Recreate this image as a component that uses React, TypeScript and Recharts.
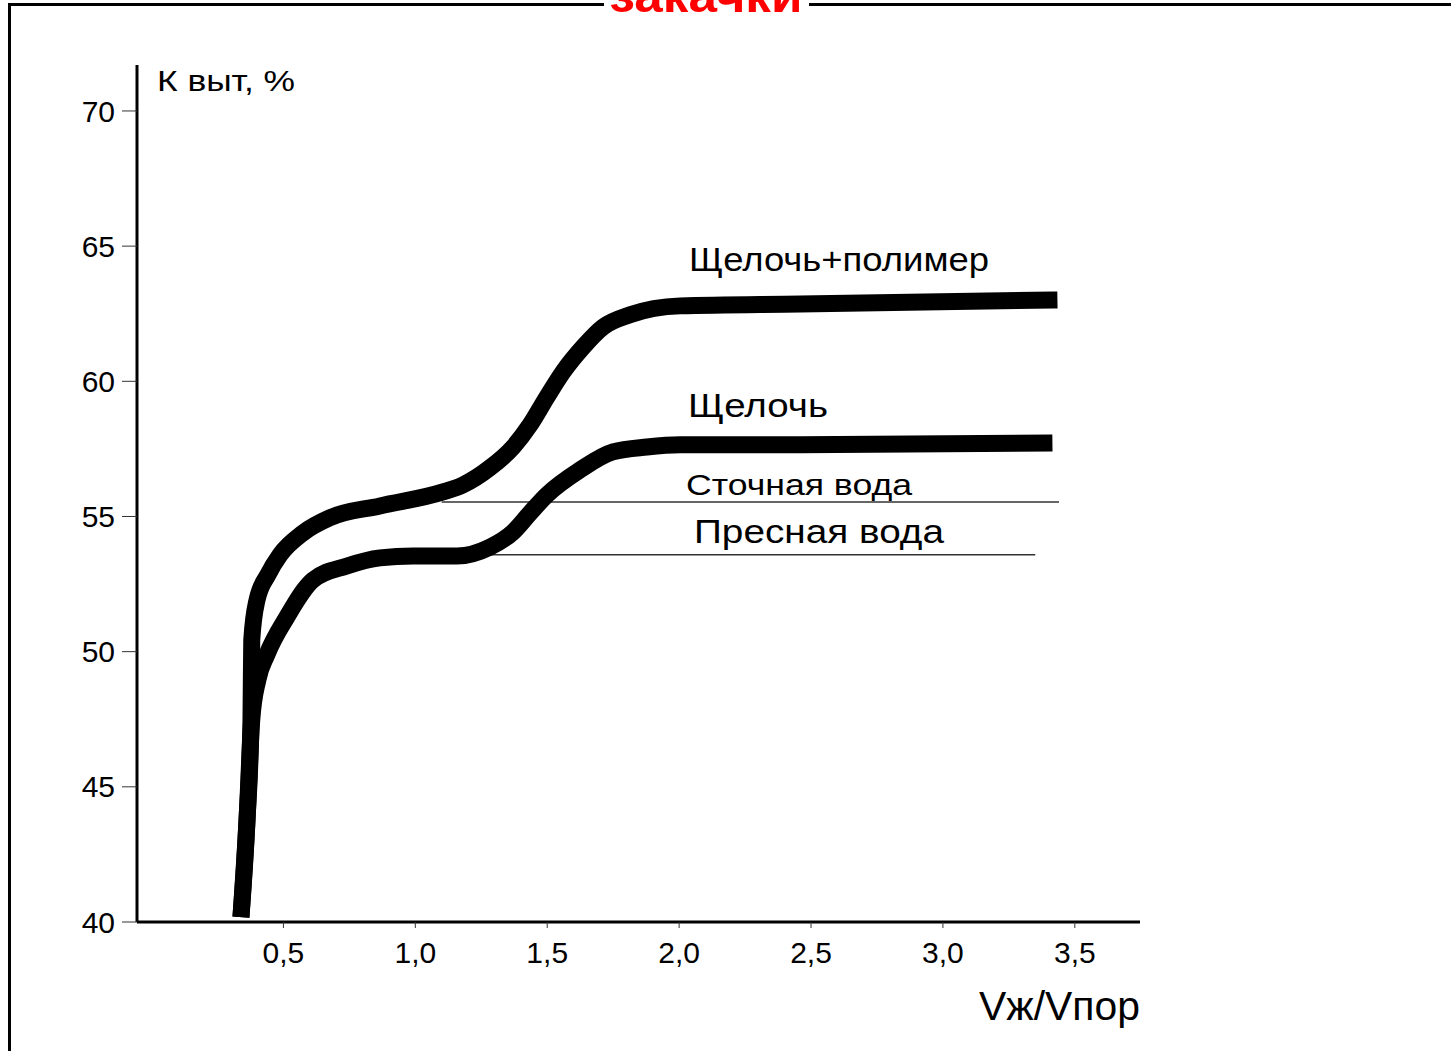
import { Line, LineChart, XAxis, YAxis } from 'recharts'

const FONT = '"Liberation Sans", Arial, sans-serif'

const X_TICKS = [0.5, 1.0, 1.5, 2.0, 2.5, 3.0, 3.5]
const Y_TICKS = [40, 45, 50, 55, 60, 65, 70]

// Щелочь+полимер
const POLY_X = [0.339, 0.362, 0.377, 0.38, 0.4, 0.441, 0.487, 0.574, 0.676, 0.866, 1.105, 1.181, 1.283, 1.371, 1.435, 1.499, 1.56, 1.636, 1.712, 1.814, 2.004, 2.459, 3.434]
const POLY_Y = [40.18, 43.77, 47.47, 50.43, 51.91, 52.84, 53.58, 54.39, 54.95, 55.39, 55.91, 56.17, 56.8, 57.57, 58.39, 59.42, 60.35, 61.27, 62.01, 62.46, 62.79, 62.86, 63.01]

// Щелочь
const ALKALI_X = [0.339, 0.362, 0.38, 0.403, 0.437, 0.513, 0.612, 0.741, 0.866, 0.992, 1.158, 1.283, 1.371, 1.435, 1.499, 1.624, 1.749, 1.878, 2.004, 2.459, 3.415]
const ALKALI_Y = [40.18, 43.77, 47.47, 48.95, 49.88, 51.28, 52.65, 53.17, 53.47, 53.54, 53.54, 53.87, 54.43, 55.13, 55.8, 56.72, 57.39, 57.57, 57.65, 57.65, 57.72]

// Сточная вода / Пресная вода
const WASTE_X = [1.1, 3.44]
const WASTE_Y = [55.54, 55.54]
const FRESH_X = [1.28, 3.35]
const FRESH_Y = [53.58, 53.58]

const zip = (xs: number[], ys: number[]) => xs.map((x, i) => ({ x, y: ys[i] }))

const lbl = (text: string, x: number, y: number, size: number, len: number) => (
  <text x={x} y={y} fontSize={size} textLength={len} lengthAdjust="spacingAndGlyphs" fill="#000">
    {text}
  </text>
)

export default function App() {
  return (
    <div style={{ position: 'absolute', left: 0, top: 0, width: 1451, height: 1051, background: '#fff', overflow: 'hidden', fontFamily: FONT }}>
      <LineChart width={1451} height={1051} margin={{ top: 65, right: 311, bottom: 0, left: 0 }}>
        <XAxis
          dataKey="x"
          type="number"
          domain={[-0.055, 3.747]}
          allowDataOverflow
          ticks={X_TICKS}
          height={129}
          tickFormatter={(v) => Number(v).toFixed(1).replace('.', ',')}
          axisLine={{ stroke: '#000', strokeWidth: 3 }}
          tickLine={{ stroke: '#333', strokeWidth: 1 }}
          tickSize={6}
          tickMargin={14}
          tick={{ fill: '#000', fontSize: 30, fontFamily: FONT }}
        />
        <YAxis
          dataKey="y"
          type="number"
          domain={[40, 71.7]}
          allowDataOverflow
          ticks={Y_TICKS}
          width={137}
          axisLine={{ stroke: '#000', strokeWidth: 3 }}
          tickLine={{ stroke: '#333', strokeWidth: 1 }}
          tickSize={15}
          tickMargin={7}
          tick={{ fill: '#000', fontSize: 30, fontFamily: FONT }}
        />
        <Line data={zip(WASTE_X, WASTE_Y)} dataKey="y" type="linear" stroke="#333" strokeWidth={1.5} dot={false} activeDot={false} isAnimationActive={false} />
        <Line data={zip(FRESH_X, FRESH_Y)} dataKey="y" type="linear" stroke="#333" strokeWidth={1.5} dot={false} activeDot={false} isAnimationActive={false} />
        <Line data={zip(ALKALI_X, ALKALI_Y)} dataKey="y" type="monotone" stroke="#000" strokeWidth={17} strokeLinejoin="round" dot={false} activeDot={false} isAnimationActive={false} />
        <Line data={zip(POLY_X, POLY_Y)} dataKey="y" type="monotone" stroke="#000" strokeWidth={17} strokeLinejoin="round" dot={false} activeDot={false} isAnimationActive={false} />
      </LineChart>
      <svg width={1451} height={1051} style={{ position: 'absolute', left: 0, top: 0, pointerEvents: 'none' }} fontFamily={FONT}>
        <line x1={8} y1={4.5} x2={1451} y2={4.5} stroke="#000" strokeWidth={3} />
        <line x1={9.5} y1={3} x2={9.5} y2={1051} stroke="#000" strokeWidth={3} />
        <rect x={604} y={0} width={205} height={9} fill="#fff" />
        <text x={706} y={12} textAnchor="middle" fontSize={46} fontWeight="bold" fill="#ff0000" textLength={193} lengthAdjust="spacingAndGlyphs">
          закачки
        </text>
        {lbl('К выт, %', 157, 91, 30, 138)}
        {lbl('Vж/Vпор', 979, 1020, 40, 161)}
        {lbl('Щелочь+полимер', 689, 271, 34, 300)}
        {lbl('Щелочь', 688, 417, 34, 140)}
        {lbl('Сточная вода', 686, 495, 29, 226)}
        {lbl('Пресная вода', 694, 543, 33, 250)}
      </svg>
    </div>
  )
}
